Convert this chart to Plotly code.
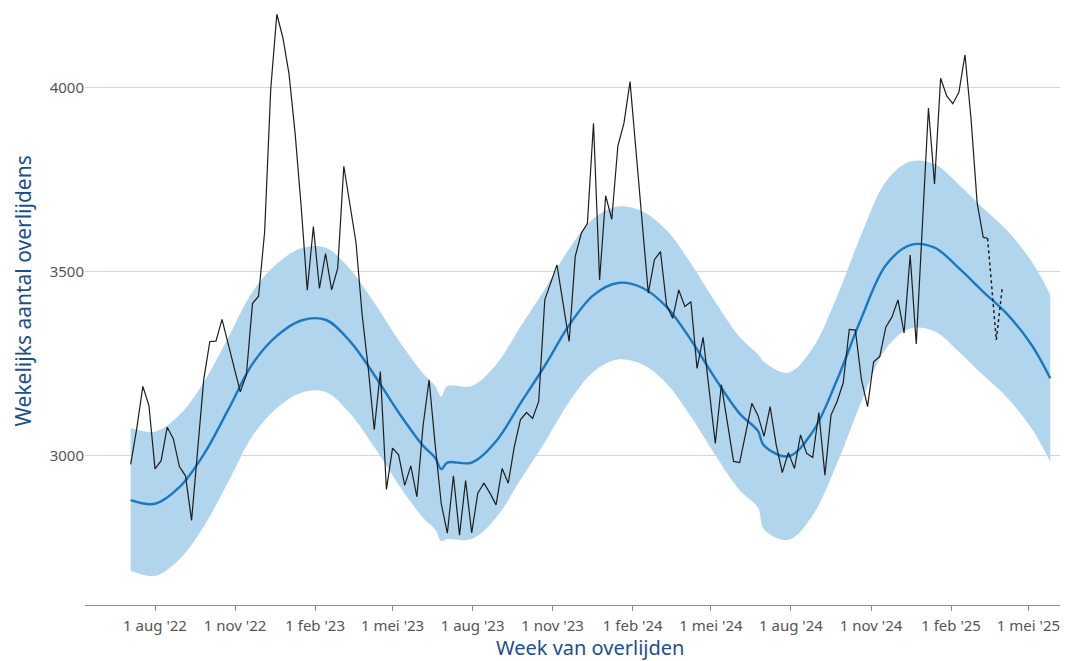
import pandas as pd
import plotly.graph_objects as go

# Observed weekly deaths (weeks starting 2022-07-04)
obs_start = "2022-07-04"
observed = [
    2977, 3075, 3189, 3137, 2965, 2987, 3078, 3047, 2971, 2946,
    2825, 3015, 3208, 3311, 3312, 3371, 3307, 3245, 3174, 3220,
    3414, 3434, 3609, 3997, 4200, 4136, 4038, 3877, 3677, 3450,
    3623, 3455, 3550, 3451, 3510, 3787, 3686, 3580, 3385, 3240,
    3071, 3229, 2909, 3021, 3003, 2920, 2973, 2889, 3080, 3207,
    3030, 2870, 2790, 2946, 2785, 2933, 2791, 2899, 2926, 2899,
    2867, 2966, 2926, 3025, 3098, 3118, 3102, 3148, 3424, 3474,
    3519, 3415, 3311, 3542, 3605, 3632, 3904, 3478, 3707, 3643,
    3842, 3904, 4017, 3825, 3633, 3442, 3533, 3555, 3410, 3374,
    3451, 3406, 3419, 3238, 3322, 3180, 3034, 3193, 3085, 2985,
    2982, 3065, 3143, 3110, 3053, 3134, 3030, 2955, 3009, 2966,
    3057, 3007, 2996, 3118, 2948, 3111, 3148, 3198, 3344, 3342,
    3207, 3134, 3256, 3270, 3350, 3377, 3424, 3334, 3546, 3304,
    3625, 3945, 3739, 4026, 3978, 3957, 3988, 4090, 3915, 3687,
    3594,
]
obs_tail_date = ["2025-03-15"]
obs_tail_value = [3591]

# Provisional (dotted) part
prov_dates = ["2025-03-15", "2025-03-25", "2025-04-01"]
prov_values = [3591, 3315, 3460]

# Expected deaths and band
exp_dates = [
    "2022-07-04", "2022-08-01", "2022-08-29", "2022-09-26", "2022-10-24",
    "2022-11-21", "2022-12-19", "2023-01-16", "2023-02-13", "2023-03-13",
    "2023-04-10", "2023-05-08", "2023-06-05", "2023-06-19", "2023-06-26",
    "2023-07-03", "2023-07-31", "2023-08-28", "2023-09-25", "2023-10-23",
    "2023-11-20", "2023-12-18", "2024-01-15", "2024-02-12", "2024-03-11",
    "2024-04-08", "2024-05-06", "2024-06-03", "2024-06-24", "2024-07-01",
    "2024-07-29", "2024-08-26", "2024-09-23", "2024-10-21", "2024-11-18",
    "2024-12-16", "2025-01-13", "2025-02-10", "2025-03-10", "2025-04-07",
    "2025-05-05", "2025-05-26",
]
expected = [
    2880, 2870, 2915, 3004, 3125, 3250, 3326, 3368, 3370, 3312,
    3220, 3118, 3028, 2995, 2964, 2982, 2982, 3040, 3143, 3245,
    3355, 3437, 3470, 3457, 3405, 3315, 3210, 3115, 3068, 3028,
    2999, 3066, 3207, 3375, 3518, 3573, 3566, 3510, 3446, 3384,
    3300, 3211,
]
upper = [
    3076, 3066, 3111, 3200, 3321, 3446, 3522, 3564, 3566, 3508,
    3416, 3314, 3224, 3190, 3161, 3190, 3190, 3248, 3351, 3453,
    3563, 3645, 3678, 3665, 3613, 3523, 3418, 3323, 3276, 3255,
    3226, 3293, 3434, 3602, 3745, 3800, 3793, 3737, 3673, 3611,
    3527, 3438,
]
lower = [
    2688, 2674, 2719, 2808, 2929, 3054, 3130, 3172, 3174, 3116,
    3024, 2922, 2832, 2800, 2768, 2774, 2774, 2832, 2935, 3037,
    3147, 3229, 3262, 3249, 3197, 3107, 3002, 2907, 2860, 2801,
    2772, 2839, 2980, 3148, 3291, 3346, 3339, 3283, 3219, 3157,
    3073, 2984,
]

tick_dates = [
    "2022-08-01", "2022-11-01", "2023-02-01", "2023-05-01", "2023-08-01",
    "2023-11-01", "2024-02-01", "2024-05-01", "2024-08-01", "2024-11-01",
    "2025-02-01", "2025-05-01",
]
tick_labels = [
    "1 aug '22", "1 nov '22", "1 feb '23", "1 mei '23", "1 aug '23",
    "1 nov '23", "1 feb '24", "1 mei '24", "1 aug '24", "1 nov '24",
    "1 feb '25", "1 mei '25",
]
y_ticks = [3000, 3500, 4000]

obs_dates = list(pd.date_range(obs_start, periods=len(observed), freq="7D").strftime("%Y-%m-%d"))

FONT = "Noto Sans"
TITLE_COLOR = "#1d4f8b"

fig = go.Figure()
fig.add_trace(go.Scatter(
    x=exp_dates, y=upper, mode="lines", line=dict(width=0, shape="spline", smoothing=1.0),
    hoverinfo="skip", showlegend=False))
fig.add_trace(go.Scatter(
    x=exp_dates, y=lower, mode="lines", line=dict(width=0, shape="spline", smoothing=1.0),
    fill="tonexty", fillcolor="#b0d5ec", hoverinfo="skip", showlegend=False))
fig.add_trace(go.Scatter(
    x=exp_dates, y=expected, mode="lines",
    line=dict(color="#1a79c2", width=2.4, shape="spline", smoothing=1.0),
    showlegend=False))
fig.add_trace(go.Scatter(
    x=obs_dates + obs_tail_date, y=observed + obs_tail_value, mode="lines",
    line=dict(color="#1e1e1e", width=1.2), showlegend=False))
fig.add_trace(go.Scatter(
    x=prov_dates, y=prov_values, mode="lines",
    line=dict(color="#1e1e1e", width=1.5, dash="dot"), showlegend=False))

fig.update_layout(
    width=1060, height=653,
    margin=dict(l=77, r=0, t=0, b=56),
    plot_bgcolor="white", paper_bgcolor="white",
    showlegend=False,
    font=dict(family=FONT),
    xaxis=dict(
        type="date",
        range=["2022-05-12 12:00", "2025-06-15 10:00"],
        tickvals=tick_dates, ticktext=tick_labels,
        tickfont=dict(size=15, color="#555555", family=FONT),
        showgrid=False, zeroline=False,
        showline=True, linecolor="#8c8c8c", linewidth=1,
        ticks="outside", ticklen=5, tickcolor="#8c8c8c",
        ticklabelstandoff=2,
    ),
    yaxis=dict(
        range=[2595, 4217],
        tickvals=y_ticks, ticktext=[str(v) for v in y_ticks],
        tickfont=dict(size=15, color="#555555", family=FONT),
        showgrid=True, gridcolor="#d4d4d4", gridwidth=1,
        zeroline=False, showline=False, ticks="",
    ),
    annotations=[
        dict(text="Wekelijks aantal overlijdens", xref="paper", yref="paper",
             x=-0.0635, y=0.526, xanchor="center", yanchor="middle",
             textangle=-90, showarrow=False, borderpad=0,
             font=dict(size=21, color=TITLE_COLOR, family=FONT)),
        dict(text="Week van overlijden", xref="paper", yref="paper",
             x=0.514, y=-0.0720, xanchor="center", yanchor="middle",
             showarrow=False, borderpad=0,
             font=dict(size=20, color=TITLE_COLOR, family=FONT)),
    ],
)

fig.write_html("out.html")
